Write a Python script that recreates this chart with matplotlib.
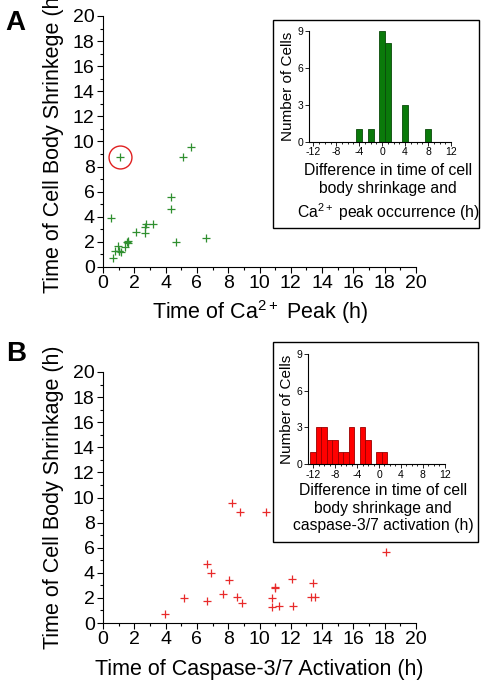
import matplotlib
matplotlib.use('Agg')
import matplotlib.pyplot as plt
from matplotlib.patches import Rectangle
from matplotlib.ticker import MultipleLocator

# panel A: Ca2+ peak vs shrinkage
ca_peak = [1.06, 5.60, 5.08, 4.34, 4.34, 4.64, 6.55, 0.53, 2.11, 2.75, 2.70, 2.70,
           3.22, 0.64, 0.77, 0.96, 1.04, 1.15, 1.43, 1.56, 1.62, 1.00, 1.60]
shrink_a = [8.80, 9.58, 8.80, 5.60, 4.60, 2.02, 2.30, 3.93, 2.76, 3.40, 3.16, 2.68,
            3.45, 0.69, 1.27, 1.70, 1.27, 1.22, 1.57, 2.02, 1.91, 1.30, 2.05]
outlier_a = (1.06, 8.80)
hist_a_bins = [-4, -2, 0, 1, 4, 8]
hist_a_counts = [1, 1, 9, 8, 3, 1]

# panel B: caspase-3/7 activation vs shrinkage
casp = [3.94, 5.16, 6.67, 6.87, 6.67, 8.02, 7.65, 8.25, 8.76, 8.57, 8.85, 10.43,
        10.83, 10.83, 11.00, 11.00, 11.26, 12.09, 12.17, 13.26, 13.54, 13.43, 18.08]
shrink_b = [0.74, 2.02, 4.67, 4.01, 1.75, 3.45, 2.34, 9.59, 8.84, 2.07, 1.59, 8.84,
            2.02, 1.27, 2.81, 2.85, 1.35, 3.53, 1.35, 2.10, 2.10, 3.19, 5.68]
hist_b_bins = [-12, -11, -10, -9, -8, -7, -6, -5, -3, -2, 0, 1]
hist_b_counts = [1, 3, 3, 2, 2, 1, 1, 3, 3, 2, 1, 1]

W, H = 483, 685
plt.rcParams['font.family'] = ['Liberation Sans', 'DejaVu Sans']
plt.rcParams['mathtext.fontset'] = 'custom'
plt.rcParams['mathtext.rm'] = 'Liberation Sans'
plt.rcParams['mathtext.it'] = 'Liberation Sans:italic'


def box(x0, y0, x1, y1):
    return [x0 / W, 1 - y1 / H, (x1 - x0) / W, (y1 - y0) / H]


def style_main(ax):
    for s in ['top', 'right']:
        ax.spines[s].set_visible(False)
    ax.set_xlim(0, 20)
    ax.set_ylim(0, 20)
    ax.xaxis.set_major_locator(MultipleLocator(2))
    ax.xaxis.set_minor_locator(MultipleLocator(1))
    ax.yaxis.set_major_locator(MultipleLocator(2))
    ax.yaxis.set_minor_locator(MultipleLocator(1))
    ax.tick_params(which='major', length=4, width=0.8, labelsize=14, pad=2)
    ax.tick_params(which='minor', length=2.5, width=0.8)


def style_inset(ax, lo):
    for s in ['top', 'right']:
        ax.spines[s].set_visible(False)
    ax.set_xlim(lo, 12)
    ax.set_ylim(0, 9)
    ax.set_xticks([-12, -8, -4, 0, 4, 8, 12])
    ax.set_xticklabels(['-12', '-8', '-4', '0', '4', '8', '12'])
    ax.xaxis.set_minor_locator(MultipleLocator(1))
    ax.set_yticks([0, 3, 6, 9])
    ax.tick_params(which='major', length=3, width=0.6, labelsize=7.5, pad=1)
    ax.tick_params(which='minor', length=1.5, width=0.6)
    ax.patch.set_alpha(0)
    ax.set_zorder(10)


fig = plt.figure(figsize=(W / 100, H / 100), dpi=100)

# ---- A ----
ax1 = fig.add_axes(box(103, 16, 416, 267))
ax1.plot(ca_peak, shrink_a, '+', color='#2f8f2f', markersize=6, mew=0.9, clip_on=False)
ax1.plot([outlier_a[0]], [outlier_a[1]], 'o', mfc='none', mec='#e02020',
         markersize=16.5, mew=1.0)
style_main(ax1)
ax1.set_xlabel('Time of Ca$^{\\mathrm{2+}}$ Peak (h)', fontsize=15.5, labelpad=4)
ax1.set_ylabel('Time of Cell Body Shrinkege (h)', fontsize=15.5, labelpad=6)

fig.patches.append(Rectangle((273 / W, 1 - 228 / H), 206 / W, 208 / H,
                             transform=fig.transFigure, fc='white', ec='black', lw=1.0,
                             zorder=5))
ia = fig.add_axes(box(309.3, 30.7, 451, 141.7))
ia.bar(hist_a_bins, hist_a_counts, width=1, color='#0a7a0a', edgecolor='#0a4a0a', lw=0.6)
style_inset(ia, -12.7)
ia.set_ylabel('Number of Cells', fontsize=11, labelpad=2)
fig.text(388 / W, 1 - 193 / H,
         'Difference in time of cell\nbody shrinkage and\nCa$^{\\mathrm{2+}}$ peak occurrence (h)',
         ha='center', va='center', fontsize=11.3, linespacing=1.3, zorder=11)

# ---- B ----
ax2 = fig.add_axes(box(103, 372, 416, 623))
ax2.plot(casp, shrink_b, '+', color='#e82a2a', markersize=6, mew=0.9, clip_on=False)
style_main(ax2)
ax2.set_xlabel('Time of Caspase-3/7 Activation (h)', fontsize=15.5, labelpad=8)
ax2.set_ylabel('Time of Cell Body Shrinkage (h)', fontsize=15.5, labelpad=6)

fig.patches.append(Rectangle((273 / W, 1 - 542 / H), 205 / W, 200 / H,
                             transform=fig.transFigure, fc='white', ec='black', lw=1.0,
                             zorder=5))
ib = fig.add_axes(box(308.3, 354.3, 444.8, 464))
ib.bar(hist_b_bins, hist_b_counts, width=1, color='#ff0000', edgecolor='#9a0000', lw=0.6)
style_inset(ib, -12.9)
ib.set_ylabel('Number of Cells', fontsize=11, labelpad=2)
fig.text(383 / W, 1 - 508 / H,
         'Difference in time of cell\nbody shrinkage and\ncaspase-3/7 activation (h)',
         ha='center', va='center', fontsize=11.3, linespacing=1.2, zorder=11)

fig.text(5 / W, 1 - 23 / H, 'A', fontsize=20, fontweight='bold', va='center', ha='left')
fig.text(6 / W, 1 - 354 / H, 'B', fontsize=20, fontweight='bold', va='center', ha='left')

fig.savefig('out.png', dpi=100)
